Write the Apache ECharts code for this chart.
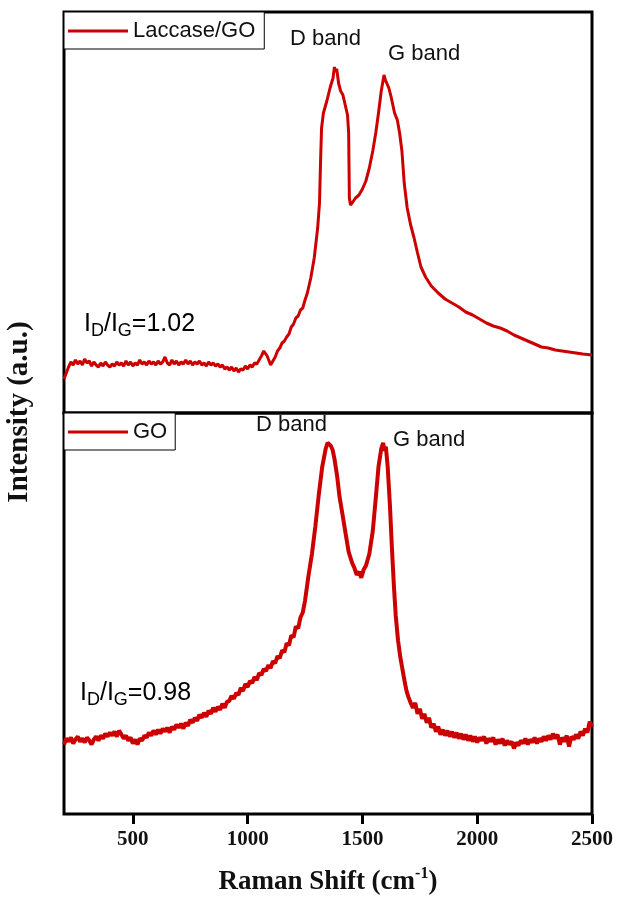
<!DOCTYPE html>
<html>
<head>
<meta charset="utf-8">
<script src="https://cdn.jsdelivr.net/npm/echarts@6/dist/echarts.min.js"></script>
<style>
  html, body { margin: 0; padding: 0; background: #fff; }
  #chart { width: 617px; height: 897px; }
</style>
</head>
<body>
<div id="chart"></div>
<script>
// Raman spectra: Laccase/GO (upper panel) and GO (lower panel), intensity in arbitrary units
const laccaseGoShift = [200,210,220,230,240,250,260,270,280,290,300,310,320,330,340,350,360,370,380,390,400,410,420,430,440,450,460,470,480,490,500,510,520,530,540,550,560,570,580,590,600,610,620,630,640,650,660,670,680,690,700,710,720,730,740,750,760,770,780,790,800,810,820,830,840,850,860,870,880,890,900,910,920,930,940,950,960,970,980,990,1000,1010,1020,1030,1040,1050,1060,1070,1075,1085,1095,1100,1110,1120,1130,1140,1150,1160,1170,1180,1190,1200,1210,1220,1230,1240,1250,1260,1275,1290,1305,1313,1318,1322,1330,1345,1360,1372,1378,1382,1388,1396,1405,1415,1425,1435,1440,1443,1448,1458,1470,1485,1500,1515,1530,1545,1558,1570,1582,1594,1600,1605,1615,1625,1640,1652,1662,1672,1682,1695,1710,1725,1740,1755,1775,1800,1830,1860,1890,1920,1950,1980,2010,2040,2070,2100,2130,2160,2190,2220,2250,2280,2310,2340,2370,2400,2430,2460,2500];
const laccaseGoIntensity = [34,40,46,51,48,53,49,52,48,54,50,52,47,51,48,46,50,47,51,48,46,49,47,51,48,50,47,52,48,51,47,50,48,53,49,51,48,52,49,51,48,52,49,51,56,50,48,53,49,52,48,51,49,53,49,52,48,51,49,52,48,50,47,51,48,50,47,49,46,48,44,46,43,46,42,45,41,44,43,47,44,48,46,50,49,53,57,62,64,57,51,48,52,56,62,65,70,72,76,79,86,89,95,97,103,105,113,120,135,155,185,210,255,285,300,312,326,335,346,341,344,330,322,318,308,298,280,215,208,211,215,218,224,232,245,262,280,300,322,338,333,335,325,316,300,293,280,262,230,205,188,175,160,146,136,127,120,114,110,106,101,98,94,90,87,85,82,78,75,72,69,66,65,63,62,61,60,59,58];

const goShift = [200,210,220,230,240,250,260,270,280,290,300,310,320,330,340,350,360,370,380,390,400,410,420,430,440,450,460,470,480,490,500,510,520,530,540,550,560,570,580,590,600,610,620,630,640,650,660,670,680,690,700,710,720,730,740,750,760,770,780,790,800,810,820,830,840,850,860,870,880,890,900,910,920,930,940,950,960,970,980,990,1000,1010,1020,1030,1040,1050,1060,1070,1080,1090,1100,1110,1120,1130,1140,1150,1160,1170,1180,1190,1200,1210,1220,1230,1240,1250,1265,1280,1295,1310,1325,1340,1348,1355,1362,1370,1378,1390,1400,1413,1425,1440,1455,1465,1475,1485,1495,1505,1515,1530,1545,1558,1570,1582,1590,1596,1602,1610,1620,1628,1637,1645,1655,1665,1675,1685,1692,1700,1710,1720,1730,1740,1750,1760,1770,1780,1790,1800,1810,1820,1830,1840,1850,1860,1870,1880,1890,1900,1910,1920,1930,1940,1950,1960,1970,1980,1990,2000,2010,2020,2030,2040,2050,2060,2070,2080,2090,2100,2110,2120,2130,2140,2150,2160,2170,2180,2190,2200,2210,2220,2230,2240,2250,2260,2270,2280,2290,2300,2310,2320,2330,2340,2350,2360,2370,2380,2390,2400,2410,2420,2430,2440,2450,2460,2470,2480,2490,2500];
const goIntensity = [70,76,73,77,71,75,78,73,76,72,77,74,70,75,78,74,79,76,81,78,82,79,83,78,84,80,76,79,74,77,71,75,70,76,74,79,77,82,79,84,80,85,81,86,83,87,82,88,85,90,87,91,86,92,89,95,92,97,94,100,97,102,98,104,101,107,103,108,105,111,107,113,114,119,116,122,120,127,124,131,128,134,132,138,135,142,140,146,144,150,147,154,152,159,157,165,163,172,170,180,178,189,187,198,203,215,240,262,290,322,350,368,374,376,371,367,358,340,320,302,285,264,253,248,241,244,238,246,250,262,285,318,350,368,374,366,370,350,310,270,230,200,175,158,145,132,124,118,112,107,112,101,106,96,101,92,97,87,91,83,88,80,85,79,84,78,83,77,82,76,81,75,80,74,79,73,78,72,77,74,78,71,76,73,77,70,75,71,76,69,74,70,73,66,72,69,74,71,76,70,75,72,77,71,76,73,78,74,79,75,81,76,80,70,77,73,79,68,78,75,80,76,83,79,86,82,93,88];

const xTicks = [500, 1000, 1500, 2000, 2500];
const seriesNames = ['Laccase/GO', 'GO'];
const ratioLabels = ['1.02', '0.98'];
const bandLabels = ['D band', 'G band'];

const pairs = (xs, ys) => xs.map((x, i) => [x, ys[i]]);

const RED = '#cc0000';
const sansFont = '"Liberation Sans", Arial, sans-serif';
const serifFont = '"Liberation Serif", "Times New Roman", serif';

const ratioRich = {
  m: { fontSize: 25, fontFamily: sansFont, color: '#2b2b2b', lineHeight: 28, padding: [0, 0, 6, 0], verticalAlign: 'top' },
  s: { fontSize: 18, fontFamily: sansFont, color: '#2b2b2b', lineHeight: 18, verticalAlign: 'bottom' }
};
const ratioText = v => '{m|I}{s|D}{m|/I}{s|G}{m|=' + v + '}';

const chart = echarts.init(document.getElementById('chart'), null, { renderer: 'canvas' });

chart.setOption({
  animation: false,
  backgroundColor: '#fff',
  grid: [
    { left: 64, top: 12, width: 528, height: 401, show: true, borderColor: '#000', borderWidth: 3, backgroundColor: 'transparent' },
    { left: 64, top: 413, width: 528, height: 404, show: true, borderColor: '#000', borderWidth: 3, backgroundColor: 'transparent' }
  ],
  xAxis: [
    { type: 'value', gridIndex: 0, min: 200, max: 2500, show: false },
    {
      type: 'value', gridIndex: 1, min: 200, max: 2500,
      axisLine: { show: false },
      splitLine: { show: false },
      axisTick: { show: true, inside: false, length: 10, customValues: xTicks, lineStyle: { color: '#000', width: 3 } },
      axisLabel: {
        customValues: xTicks, margin: 15, formatter: v => String(v),
        fontFamily: serifFont, fontWeight: 'bold', fontSize: 21, color: '#111'
      },
      name: '{t|Raman Shift (cm}{u|-1}{t|)}',
      nameLocation: 'middle',
      nameGap: 52,
      nameTextStyle: {
        rich: {
          t: { fontFamily: serifFont, fontWeight: 'bold', fontSize: 27, color: '#111', lineHeight: 30, verticalAlign: 'bottom' },
          u: { fontFamily: serifFont, fontWeight: 'bold', fontSize: 16, color: '#111', lineHeight: 30, verticalAlign: 'top', padding: [0, 0, 10, 0] }
        }
      }
    }
  ],
  yAxis: [
    { type: 'value', gridIndex: 0, min: 0, max: 401, show: false },
    { type: 'value', gridIndex: 1, min: 0, max: 404, show: false }
  ],
  legend: [
    {
      data: [seriesNames[0]], left: 64, top: 12, orient: 'horizontal',
      icon: 'rect', itemWidth: 60, itemHeight: 3,
      padding: [8, 9, 7, 4], borderColor: '#000', borderWidth: 1, backgroundColor: '#fff',
      textStyle: { fontFamily: sansFont, fontSize: 22, color: '#111' }
    },
    {
      data: [seriesNames[1]], left: 64, top: 413, orient: 'horizontal',
      icon: 'rect', itemWidth: 60, itemHeight: 3,
      padding: [8, 8, 7, 4], borderColor: '#000', borderWidth: 1, backgroundColor: '#fff',
      textStyle: { fontFamily: sansFont, fontSize: 22, color: '#111' }
    }
  ],
  series: [
    {
      name: seriesNames[0], type: 'line', xAxisIndex: 0, yAxisIndex: 0,
      data: pairs(laccaseGoShift, laccaseGoIntensity),
      showSymbol: false, symbol: 'none',
      lineStyle: { color: RED, width: 3 }, itemStyle: { color: RED }
    },
    {
      name: seriesNames[1], type: 'line', xAxisIndex: 1, yAxisIndex: 1,
      data: pairs(goShift, goIntensity),
      showSymbol: false, symbol: 'none',
      lineStyle: { color: RED, width: 4 }, itemStyle: { color: RED }
    }
  ],
  graphic: [
    {
      type: 'text', x: 20, y: 412, rotation: Math.PI / 2,
      style: { text: 'Intensity (a.u.)', font: 'bold 29px ' + serifFont, fill: '#111', align: 'center', verticalAlign: 'middle' }
    },
    { type: 'text', x: 290, y: 28, style: { text: bandLabels[0], font: '22px ' + sansFont, fill: '#111' } },
    { type: 'text', x: 388, y: 43, style: { text: bandLabels[1], font: '22px ' + sansFont, fill: '#111' } },
    { type: 'text', x: 256, y: 414, style: { text: bandLabels[0], font: '22px ' + sansFont, fill: '#111' } },
    { type: 'text', x: 393, y: 429, style: { text: bandLabels[1], font: '22px ' + sansFont, fill: '#111' } },
    { type: 'text', x: 84, y: 312, style: { text: ratioText(ratioLabels[0]), rich: ratioRich } },
    { type: 'text', x: 80, y: 681, style: { text: ratioText(ratioLabels[1]), rich: ratioRich } }
  ]
});
</script>
</body>
</html>
